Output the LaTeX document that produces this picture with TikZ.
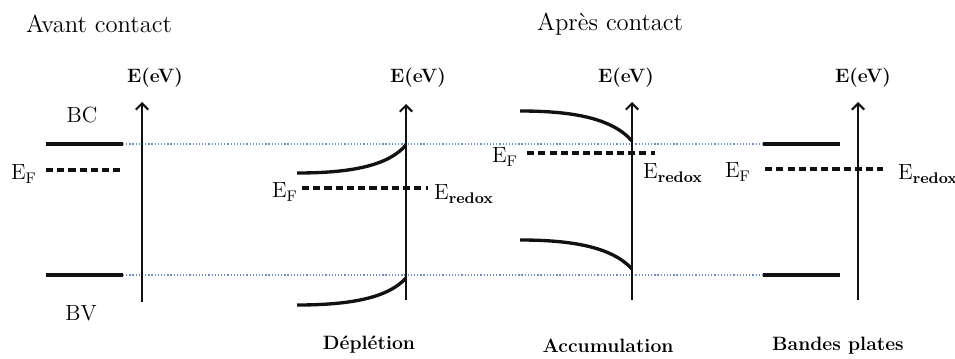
\documentclass[tikz,border=0pt]{standalone}
\usepackage{tikz}
\usetikzlibrary{arrows.meta,positioning}
\definecolor{ink}{HTML}{111111}
\definecolor{dotblue}{HTML}{6E8FC6}
\tikzset{band/.style={ink,line width=1.9pt}, fermi/.style={ink,line width=1.8pt,dash pattern=on 4pt off 2.4pt}, level/.style={dotblue,line width=.7pt,dash pattern=on .7pt off 1.1pt}, axis/.style={ink,line width=1.2pt,-{Straight Barb[length=3.5pt,width=7pt]}}, title/.style={font=\fontsize{14}{16}\selectfont}, lab/.style={font=\fontsize{12.5}{14}\selectfont}, axlab/.style={font=\fontsize{11}{13}\selectfont\bfseries}, case/.style={font=\fontsize{11}{13}\selectfont\bfseries}}
\begin{document}
\begin{tikzpicture}[x=0.02cm,y=-0.02cm]
\useasboundingbox (0,0) rectangle (955,358);
\node[title] (avant) at (99,24) {Avant contact};
\node[title] (apres) at (610,24) {Après contact};
% niveaux de reference
\coordinate (bcL) at (123,144); \coordinate (bcR) at (763,144);
\coordinate (bvL) at (123,275); \coordinate (bvR) at (763,275);
\draw[level] (bcL)--(bcR);
\draw[level] (bvL)--(bvR);
% avant contact
\coordinate (O1) at (142,302); \coordinate (T1) at (142,102);
\draw[axis] (O1)--(T1);
\node[axlab] (ev1) at (155,78) {E(eV)};
\draw[band] (46,144)--(bcL);
\draw[fermi] (46,170)--(123,170);
\draw[band] (46,275)--(bvL);
\node[lab] (bc) at (82,115) {BC};
\node[lab] (bv) at (81,313) {BV};
\node[lab] (ef1) at (24,174) {E\textsubscript{F}};
% depletion
\coordinate (O2) at (406,300); \coordinate (T2) at (406,104);
\draw[band] (297,173) .. controls (350,173) and (388,166) .. (406,145);
\draw[band] (297,305) .. controls (350,305) and (388,298) .. (406,278);
\draw[fermi] (302,188)--(428,188);
\draw[axis] (O2)--(T2);
\node[axlab] (ev2) at (418,78) {E(eV)};
\node[lab] (ef2) at (285,192) {E\textsubscript{F}};
\node[lab] (red2) at (464,194) {E\textsubscript{\textbf{redox}}};
\node[case] (depl) at (369,345) {Déplétion};
% accumulation
\coordinate (O3) at (632,300); \coordinate (T3) at (632,102);
\draw[band] (520,111) .. controls (572,111) and (612,118) .. (632,141);
\draw[band] (520,240) .. controls (572,240) and (612,247) .. (632,269);
\draw[fermi] (527,153)--(655,153);
\draw[axis] (O3)--(T3);
\node[axlab] (ev3) at (626,78) {E(eV)};
\node[lab] (ef3) at (505,157) {E\textsubscript{F}};
\node[lab] (red3) at (673,173) {E\textsubscript{\textbf{redox}}};
\node[case] (accu) at (608,346) {Accumulation};
% bandes plates
\coordinate (O4) at (858,300); \coordinate (T4) at (858,102);
\draw[band] (bcR)--(840,144);
\draw[band] (bvR)--(840,275);
\draw[fermi] (765,169)--(883,169);
\draw[axis] (O4)--(T4);
\node[axlab] (ev4) at (863,78) {E(eV)};
\node[lab] (ef4) at (738,172) {E\textsubscript{F}};
\node[lab] (red4) at (928,174) {E\textsubscript{\textbf{redox}}};
\node[case] (plat) at (838,346) {Bandes plates};
\end{tikzpicture}
\end{document}
